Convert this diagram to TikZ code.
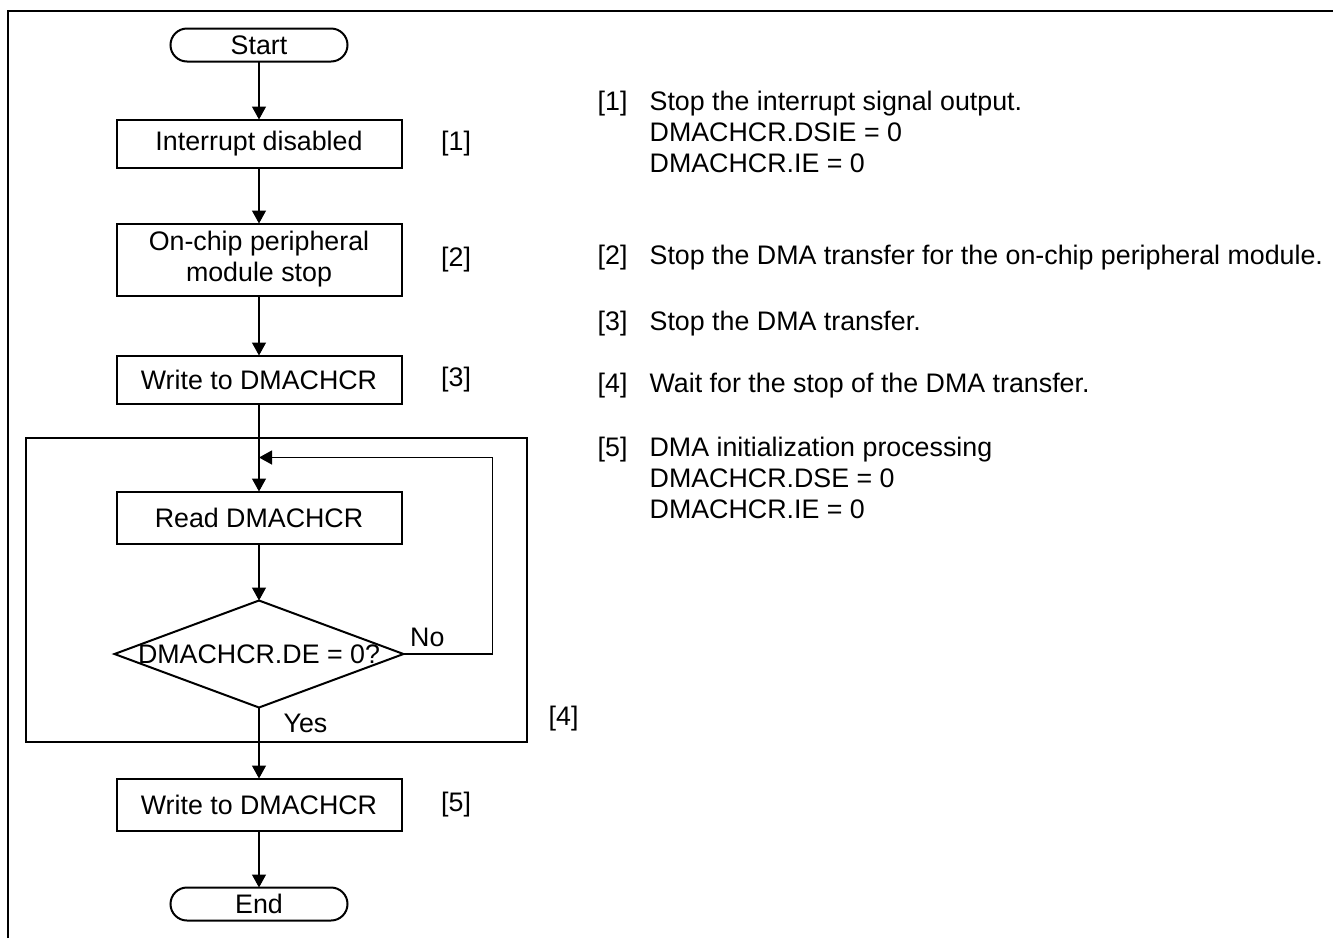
\documentclass[tikz,border=0pt]{standalone}
\usepackage{fontspec}
\setmainfont{Liberation Sans}
\usetikzlibrary{arrows.meta, calc, positioning}
\tikzset{
  >={Triangle[length=6.5pt, width=7pt]},
  flow/.style={font=\fontsize{13.4}{15.5}\selectfont, line width=0.65pt},
  proc/.style={draw, line width=1pt, outer sep=0pt, minimum width=142.5pt, minimum height=24pt,
               align=center, inner sep=2pt},
  term/.style={draw, line width=1pt, outer sep=0pt, rounded corners=8.25pt, minimum width=88.5pt,
               minimum height=16.5pt, inner sep=0pt},
  % text sits in a plain box, the diamond is drawn through its four anchors
  decision/.style={minimum width=144.5pt, minimum height=53.5pt, inner sep=0pt, outer sep=0pt},
  sig/.style={->},
  tag/.style={inner sep=0pt, anchor=west},
  note/.style={inner sep=0pt, anchor=base west},
  frame/.style={line width=0.6pt},
}
\newcommand\stepnote[2]{\begin{tabular}[t]{@{}p{26pt}@{}l@{}}#1&\begin{tabular}[t]{@{}l@{}}#2\end{tabular}\end{tabular}}

\begin{document}
\begin{tikzpicture}[flow, x=0.5pt, y=-0.5pt]
  \useasboundingbox (0,0) rectangle (1333,938);
  \draw[line width=1pt] (8,938) -- (8,11) -- (1333,11);
  % main column
  \node[term] (start) at (259,45) {Start};
  \node[proc, below=29pt of start] (b1) {Interrupt disabled};
  \node[proc, below=28pt of b1, minimum height=36pt] (b2) {On-chip peripheral\\module stop};
  \node[proc, below=30pt of b2] (b3) {Write to DMACHCR};
  \node[proc, below=44pt of b3, minimum height=26pt] (b4) {Read DMACHCR};
  \node[decision, below=28.5pt of b4] (dia) {DMACHCR.DE = 0?};
  \node[proc, below=35.5pt of dia, minimum height=26pt] (b5) {Write to DMACHCR};
  \node[term, below=28.5pt of b5] (end) {End};
  \draw[line width=1pt] (dia.north) -- (dia.east) -- (dia.south) -- (dia.west) -- cycle;
  \coordinate (ret) at ($(b4.north)+(0,-34)$);
  % step tags
  \node[tag, right=19.5pt of b1] (t1) {[1]};
  \node[tag, right=19.5pt of b2] (t2) {[2]};
  \node[tag, right=19.5pt of b3] (t3) {[3]};
  \node[tag, right=19.5pt of b5] (t5) {[5]};
  \draw[frame] (26,438) rectangle (527,742);
  \node[tag] (t4) at (548,719) {[4]};
  % connectors
  \draw[sig] (start) -- (b1);
  \draw[sig] (b1) -- (b2);
  \draw[sig] (b2) -- (b3);
  \draw[sig] (b3) -- (b4);
  \draw[sig] (b4) -- (dia.north);
  \draw[sig] (dia.south) -- (b5);
  \draw[sig] (b5) -- (end);
  \draw[sig] (dia.east) -- ++(89,0) |- (ret);
  \node[above right=3.5pt and 3pt of dia.east, inner sep=0pt] (no) {No};
  \node[below right=3pt and 12pt of dia.south, inner sep=0pt] (yes) {Yes};
  % notes
  \node[note] (n1) at (597,110) {\stepnote{[1]}{Stop the interrupt signal output.\\DMACHCR.DSIE = 0\\DMACHCR.IE = 0}};
  \node[note] (n2) at (597,264) {\stepnote{[2]}{Stop the DMA transfer for the on-chip peripheral module.}};
  \node[note] (n3) at (597,330) {\stepnote{[3]}{Stop the DMA transfer.}};
  \node[note] (n4) at (597,392) {\stepnote{[4]}{Wait for the stop of the DMA transfer.}};
  \node[note] (n5) at (597,456) {\stepnote{[5]}{DMA initialization processing\\DMACHCR.DSE = 0\\DMACHCR.IE = 0}};
\end{tikzpicture}
\end{document}
